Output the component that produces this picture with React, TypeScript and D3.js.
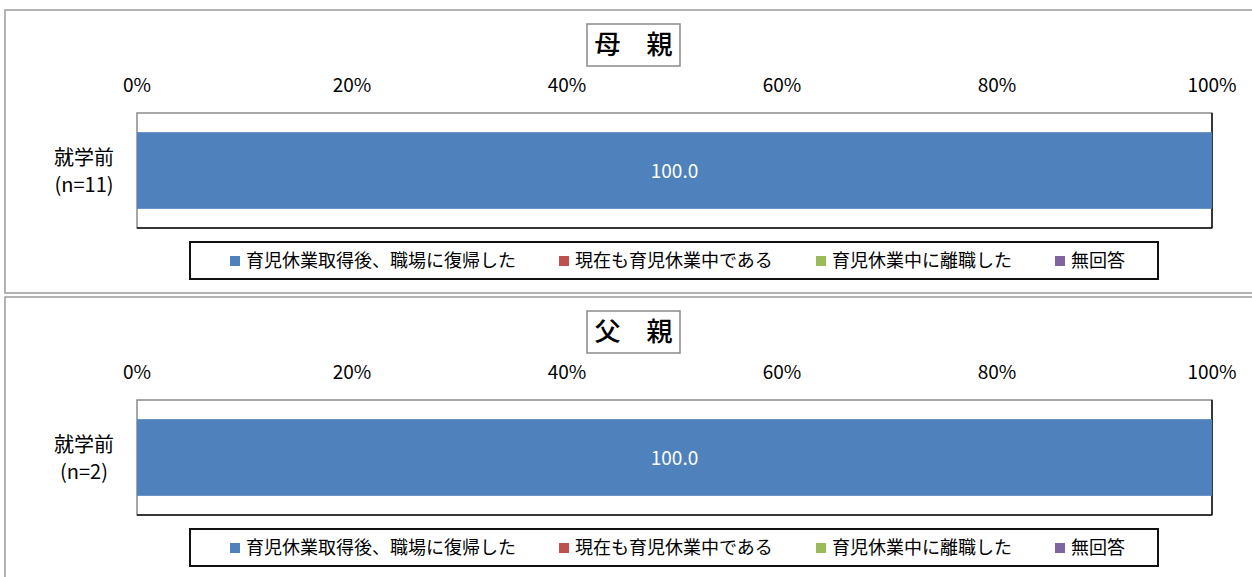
import React from "react";
import * as d3 from "d3";

// ---- data ----
const panelTitles = ["母　親", "父　親"];
const categoryNames = ["就学前"];
const sampleSizes = ["(n=11)", "(n=2)"];
const seriesNames = [
  "育児休業取得後、職場に復帰した",
  "現在も育児休業中である",
  "育児休業中に離職した",
  "無回答",
];
const seriesColors = ["#4F81BD", "#C0504D", "#9BBB59", "#8064A2"];
const motherValues = [100.0, 0, 0, 0];
const fatherValues = [100.0, 0, 0, 0];
const tickValues = [0, 20, 40, 60, 80, 100];

const panelValues = [motherValues, fatherValues];

const FONT = "'Noto Sans CJK JP', 'Noto Sans', sans-serif";

function Panel({ index, dy }: { index: number; dy: number }) {
  const values = panelValues[index];
  const x = d3.scaleLinear().domain([0, 100]).range([137, 1212]);
  const y = d3
    .scaleBand<string>()
    .domain(categoryNames)
    .range([113 + dy, 228 + dy])
    .paddingInner(0)
    .paddingOuter(0.25);

  const row: Record<string, number> = {};
  seriesNames.forEach((s, i) => (row[s] = values[i]));
  const stacked = d3.stack<Record<string, number>>().keys(seriesNames)([row]);

  // legend layout
  const legendFont = 18;
  const legendXs: number[] = [];
  let lx = 230;
  seriesNames.forEach((s) => {
    legendXs.push(lx);
    lx += 16 + s.length * legendFont + 43;
  });

  const plotTop = 113 + dy;
  const plotBottom = 228 + dy;

  return (
    <g>
      {/* panel frame */}
      <rect
        x={5}
        y={index === 0 ? 10 : 297}
        width={1270}
        height={index === 0 ? 283 : 320}
        fill="#fff"
        stroke="#9a9a9a"
        strokeWidth={1.5}
      />
      {/* title */}
      <rect x={587} y={24 + dy} width={93} height={42} fill="#fff" stroke="#8a8a8a" strokeWidth={1.5} />
      <text
        x={633.5}
        y={54 + dy}
        textAnchor="middle"
        fontFamily={FONT}
        fontSize={26}
        fontWeight={500}
        fill="#000"
      >
        {panelTitles[index]}
      </text>
      {/* ticks */}
      {tickValues.map((t) => (
        <text
          key={t}
          x={x(t)}
          y={92 + dy}
          textAnchor="middle"
          fontFamily={FONT}
          fontSize={19}
          fill="#000"
        >
          {`${t}%`}
        </text>
      ))}
      {/* plot area */}
      <rect
        x={x(0)}
        y={plotTop}
        width={x(100) - x(0)}
        height={plotBottom - plotTop}
        fill="#fff"
        stroke="#8a8a8a"
        strokeWidth={1.5}
      />
      <line x1={x(100)} x2={x(100)} y1={plotTop} y2={plotBottom} stroke="#111" strokeWidth={1.5} />
      <line x1={x(0)} x2={x(100)} y1={plotBottom} y2={plotBottom} stroke="#111" strokeWidth={1.5} />
      {/* bars */}
      {stacked.map((s, i) =>
        s.map((d, j) => {
          const w = x(d[1]) - x(d[0]);
          if (w <= 0) return null;
          return (
            <g key={`${i}-${j}`}>
              <rect
                x={x(d[0])}
                y={y(categoryNames[j])!}
                width={w}
                height={y.bandwidth()}
                fill={seriesColors[i]}
              />
              <text
                x={(x(d[0]) + x(d[1])) / 2}
                y={y(categoryNames[j])! + y.bandwidth() / 2 + 7}
                textAnchor="middle"
                fontFamily={FONT}
                fontSize={19}
                fill="#fff"
              >
                {(d[1] - d[0]).toFixed(1)}
              </text>
            </g>
          );
        })
      )}
      {/* category labels */}
      {categoryNames.map((c) => (
        <g key={c}>
          <text x={84} y={165 + dy} textAnchor="middle" fontFamily={FONT} fontSize={20} fill="#000">
            {c}
          </text>
          <text x={84} y={192 + dy} textAnchor="middle" fontFamily={FONT} fontSize={20} fill="#000">
            {sampleSizes[index]}
          </text>
        </g>
      ))}
      {/* legend */}
      <rect x={190} y={242 + dy} width={968} height={37} fill="#fff" stroke="#111" strokeWidth={2} />
      {seriesNames.map((s, i) => (
        <g key={s}>
          <rect x={legendXs[i]} y={256 + dy} width={10} height={10} fill={seriesColors[i]} />
          <text
            x={legendXs[i] + 16}
            y={267 + dy}
            fontFamily={FONT}
            fontSize={legendFont}
            fill="#000"
          >
            {s}
          </text>
        </g>
      ))}
    </g>
  );
}

export default function App() {
  return (
    <svg
      width={1252}
      height={577}
      style={{ position: "absolute", left: 0, top: 0, background: "#fff" }}
    >
      <rect x={0} y={0} width={1252} height={577} fill="#fff" />
      <Panel index={0} dy={0} />
      <Panel index={1} dy={287} />
    </svg>
  );
}
